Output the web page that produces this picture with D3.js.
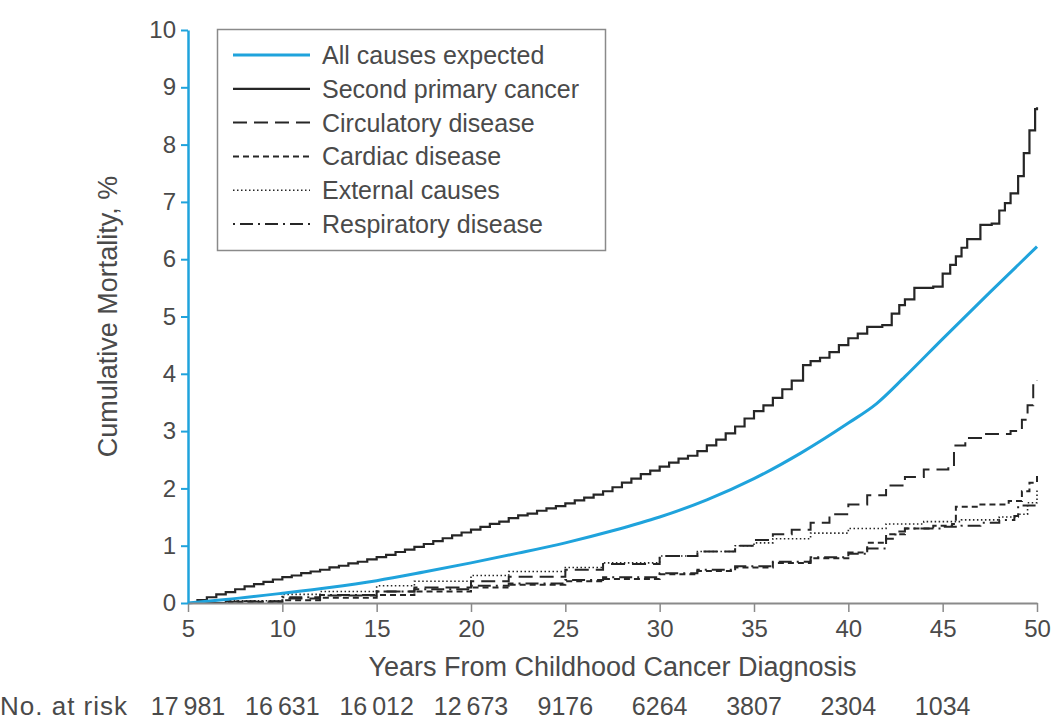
<!DOCTYPE html>
<html>
<head>
<meta charset="utf-8">
<script src="https://cdn.jsdelivr.net/npm/d3@7"></script>
<style>
  html, body { margin: 0; padding: 0; background: #fff; }
  svg { display: block; font-family: "Liberation Sans", Arial, Helvetica, sans-serif; }
</style>
</head>
<body>
<svg id="chart" width="1055" height="720"></svg>
<script>
// Cumulative mortality (%) by years from childhood cancer diagnosis
const xTicks = [5, 10, 15, 20, 25, 30, 35, 40, 45, 50];
const yTicks = [0, 1, 2, 3, 4, 5, 6, 7, 8, 9, 10];
const atRiskYears = [5, 10, 15, 20, 25, 30, 35, 40, 45];
const atRiskCounts = ["17\u2009981", "16\u2009631", "16\u2009012", "12\u2009673", "9176", "6264", "3807", "2304", "1034"];

// [year, cumulative %]
const allCausesExpected = [
  [5, 0], [7, 0.06], [10, 0.17], [12.5, 0.27], [15, 0.39], [17.5, 0.54], [20, 0.7],
  [22.5, 0.87], [25, 1.05], [27.5, 1.26], [30, 1.5], [32.5, 1.8], [35, 2.17],
  [37.5, 2.62], [40, 3.14], [41.5, 3.48], [43, 3.95], [45, 4.61], [47.5, 5.42], [50, 6.22]
];
const secondPrimaryCancer = [
  [5, 0], [5.5, 0.05], [6, 0.1], [6.5, 0.15], [7, 0.19], [7.5, 0.24], [8, 0.29], [8.5, 0.33],
  [9, 0.37], [9.5, 0.41], [10, 0.45], [10.5, 0.48], [11, 0.52], [11.5, 0.55], [12, 0.58],
  [12.5, 0.62], [13, 0.65], [13.5, 0.69], [14, 0.72], [14.5, 0.76], [15, 0.8], [15.5, 0.84],
  [16, 0.89], [16.5, 0.93], [17, 0.98], [17.5, 1.03], [18, 1.08], [18.5, 1.13], [19, 1.18],
  [19.5, 1.23], [20, 1.28], [20.5, 1.33], [21, 1.38], [21.5, 1.42], [22, 1.48], [22.5, 1.53],
  [23, 1.56], [23.5, 1.61], [24, 1.65], [24.5, 1.69], [25, 1.74], [25.5, 1.79], [26, 1.84],
  [26.5, 1.89], [27, 1.95], [27.5, 2.02], [28, 2.1], [28.5, 2.17], [29, 2.25], [29.5, 2.31],
  [30, 2.38], [30.5, 2.45], [31, 2.52], [31.5, 2.57], [32, 2.65], [32.5, 2.75], [33, 2.85],
  [33.5, 2.96], [34, 3.08], [34.5, 3.22], [35, 3.35], [35.5, 3.45], [36, 3.58], [36.5, 3.73],
  [37, 3.88], [37.6, 4.15], [38, 4.22], [38.5, 4.28], [39, 4.38], [39.5, 4.5], [40, 4.62],
  [40.5, 4.7], [41, 4.82], [41.8, 4.85], [42.3, 5.05], [42.7, 5.2], [43, 5.3], [43.5, 5.5],
  [44.5, 5.52], [45, 5.75], [45.4, 5.9], [45.7, 6.05], [46, 6.2], [46.3, 6.35], [47, 6.6],
  [47.6, 6.62], [48, 6.85], [48.3, 6.98], [48.6, 7.15], [49, 7.45], [49.3, 7.85],
  [49.6, 8.25], [49.9, 8.62], [50, 8.65]
];
const circulatoryDisease = [
  [5, 0], [7, 0.02], [10, 0.08], [12, 0.13], [15, 0.2], [17, 0.27], [20, 0.38], [22, 0.46],
  [25, 0.58], [27, 0.68], [30, 0.82], [32, 0.9], [34, 1.0], [35, 1.1], [36, 1.2], [37, 1.28],
  [38, 1.4], [39, 1.55], [40, 1.72], [41, 1.88], [42, 2.05], [43, 2.2], [44, 2.33],
  [45.3, 2.38], [45.6, 2.75], [46.2, 2.88], [47.3, 2.95], [48.6, 3.0], [49.2, 3.2],
  [49.5, 3.45], [49.8, 3.8], [50, 3.88]
];
const cardiacDisease = [
  [5, 0], [7, 0.01], [10, 0.05], [12, 0.09], [15, 0.14], [17, 0.2], [20, 0.27], [22, 0.32],
  [25, 0.38], [27, 0.42], [30, 0.5], [32, 0.56], [34, 0.62], [36, 0.7], [38, 0.78],
  [40, 0.88], [41, 1.05], [42, 1.2], [43, 1.3], [44.5, 1.35], [45.5, 1.38], [45.7, 1.68],
  [47, 1.72], [48.5, 1.78], [49.2, 1.95], [49.6, 2.1], [50, 2.27]
];
const externalCauses = [
  [5, 0], [7, 0.04], [10, 0.15], [12, 0.2], [15, 0.3], [17, 0.38], [20, 0.48], [22, 0.55],
  [25, 0.62], [27, 0.7], [30, 0.82], [32, 0.9], [34, 1.0], [35, 1.05], [36, 1.12], [38, 1.22],
  [40, 1.3], [42, 1.38], [44, 1.42], [46, 1.45], [48, 1.5], [49, 1.55], [49.5, 1.75], [50, 1.98]
];
const respiratoryDisease = [
  [5, 0], [7, 0.03], [10, 0.1], [12, 0.14], [15, 0.2], [17, 0.24], [20, 0.3], [22, 0.34],
  [25, 0.4], [27, 0.45], [30, 0.52], [32, 0.58], [34, 0.64], [36, 0.72], [38, 0.8],
  [40, 0.86], [41, 0.95], [42, 1.12], [42.5, 1.25], [43, 1.3], [45, 1.33], [46, 1.35],
  [47, 1.4], [48, 1.45], [48.8, 1.52], [49, 1.7], [50, 1.72]
];

const legendLabels = [
  "All causes expected", "Second primary cancer", "Circulatory disease",
  "Cardiac disease", "External causes", "Respiratory disease"
];

const BLUE = "#1fa3dc";
const INK = "#262626";
const TEXT = "#4a4a4a";

const series = [
  { data: allCausesExpected, color: BLUE, width: 3, dash: null, curve: d3.curveMonotoneX },
  { data: secondPrimaryCancer, color: INK, width: 2.2, dash: null, curve: d3.curveStepAfter },
  { data: circulatoryDisease, color: INK, width: 2, dash: "14,7", curve: d3.curveStepAfter },
  { data: cardiacDisease, color: INK, width: 2, dash: "6,4", curve: d3.curveStepAfter },
  { data: externalCauses, color: INK, width: 1.6, dash: "1.5,2.5", curve: d3.curveStepAfter },
  { data: respiratoryDisease, color: INK, width: 2, dash: "2,5,13,5", curve: d3.curveStepAfter }
];

const svg = d3.select("#chart");
const margin = { left: 188, right: 1037, top: 30, bottom: 603 };

const x = d3.scaleLinear().domain([5, 50]).range([margin.left, margin.right]);
const y = d3.scaleLinear().domain([0, 10]).range([margin.bottom, margin.top]);

// Curves
const plot = svg.append("g");
series.slice().reverse().forEach(s => {
  const line = d3.line().x(d => x(d[0])).y(d => y(d[1])).curve(s.curve);
  plot.append("path")
    .attr("d", line(s.data))
    .attr("fill", "none")
    .attr("stroke", s.color)
    .attr("stroke-width", s.width)
    .attr("stroke-dasharray", s.dash)
    .attr("stroke-linejoin", "miter");
});

// X axis
const xAxis = svg.append("g")
  .attr("transform", `translate(0,${margin.bottom})`)
  .call(d3.axisBottom(x).tickValues(xTicks).tickSize(9).tickPadding(8).tickSizeOuter(0));
xAxis.select(".domain").attr("stroke", "#8a8a8a").attr("stroke-width", 2);
xAxis.selectAll(".tick line").attr("stroke", "#8a8a8a").attr("stroke-width", 1.5);
xAxis.selectAll(".tick text").attr("fill", TEXT).attr("font-size", 24)
  .attr("font-family", "Liberation Sans, Arial, sans-serif");

// Y axis
const yAxis = svg.append("g")
  .attr("transform", `translate(${margin.left},0)`)
  .call(d3.axisLeft(y).tickValues(yTicks).tickSize(7).tickPadding(5).tickSizeOuter(0));
yAxis.select(".domain").attr("stroke", BLUE).attr("stroke-width", 2.5);
yAxis.selectAll(".tick line").attr("stroke", BLUE).attr("stroke-width", 2);
yAxis.selectAll(".tick text").attr("fill", TEXT).attr("font-size", 24)
  .attr("font-family", "Liberation Sans, Arial, sans-serif");

// Axis titles
svg.append("text")
  .attr("x", (margin.left + margin.right) / 2)
  .attr("y", 676)
  .attr("text-anchor", "middle")
  .attr("font-size", 27)
  .attr("fill", TEXT)
  .text("Years From Childhood Cancer Diagnosis");

svg.append("text")
  .attr("transform", `translate(117,${(margin.top + margin.bottom) / 2}) rotate(-90)`)
  .attr("text-anchor", "middle")
  .attr("font-size", 27)
  .attr("fill", TEXT)
  .text("Cumulative Mortality, %");

// Number at risk row
svg.append("text")
  .attr("x", 0)
  .attr("y", 715)
  .attr("font-size", 26)
  .attr("letter-spacing", 1)
  .attr("fill", TEXT)
  .text("No. at risk");
svg.append("g").selectAll("text")
  .data(atRiskYears)
  .join("text")
  .attr("x", d => x(d))
  .attr("y", 715)
  .attr("text-anchor", "middle")
  .attr("font-size", 25)
  .attr("fill", TEXT)
  .text((d, i) => atRiskCounts[i]);

// Legend
const legend = svg.append("g");
legend.append("rect")
  .attr("x", 217.5).attr("y", 29.5)
  .attr("width", 388).attr("height", 221)
  .attr("fill", "#fff")
  .attr("stroke", "#8a8a8a")
  .attr("stroke-width", 1.5);
const rowY = d3.scaleLinear().domain([0, legendLabels.length - 1]).range([55, 224]);
legendLabels.forEach((label, i) => {
  const s = series[i];
  legend.append("line")
    .attr("x1", 233).attr("x2", 310)
    .attr("y1", rowY(i)).attr("y2", rowY(i))
    .attr("stroke", s.color)
    .attr("stroke-width", s.width)
    .attr("stroke-dasharray", s.dash);
  legend.append("text")
    .attr("x", 322)
    .attr("y", rowY(i))
    .attr("dy", "0.36em")
    .attr("font-size", 25)
    .attr("fill", TEXT)
    .text(label);
});
</script>
</body>
</html>
